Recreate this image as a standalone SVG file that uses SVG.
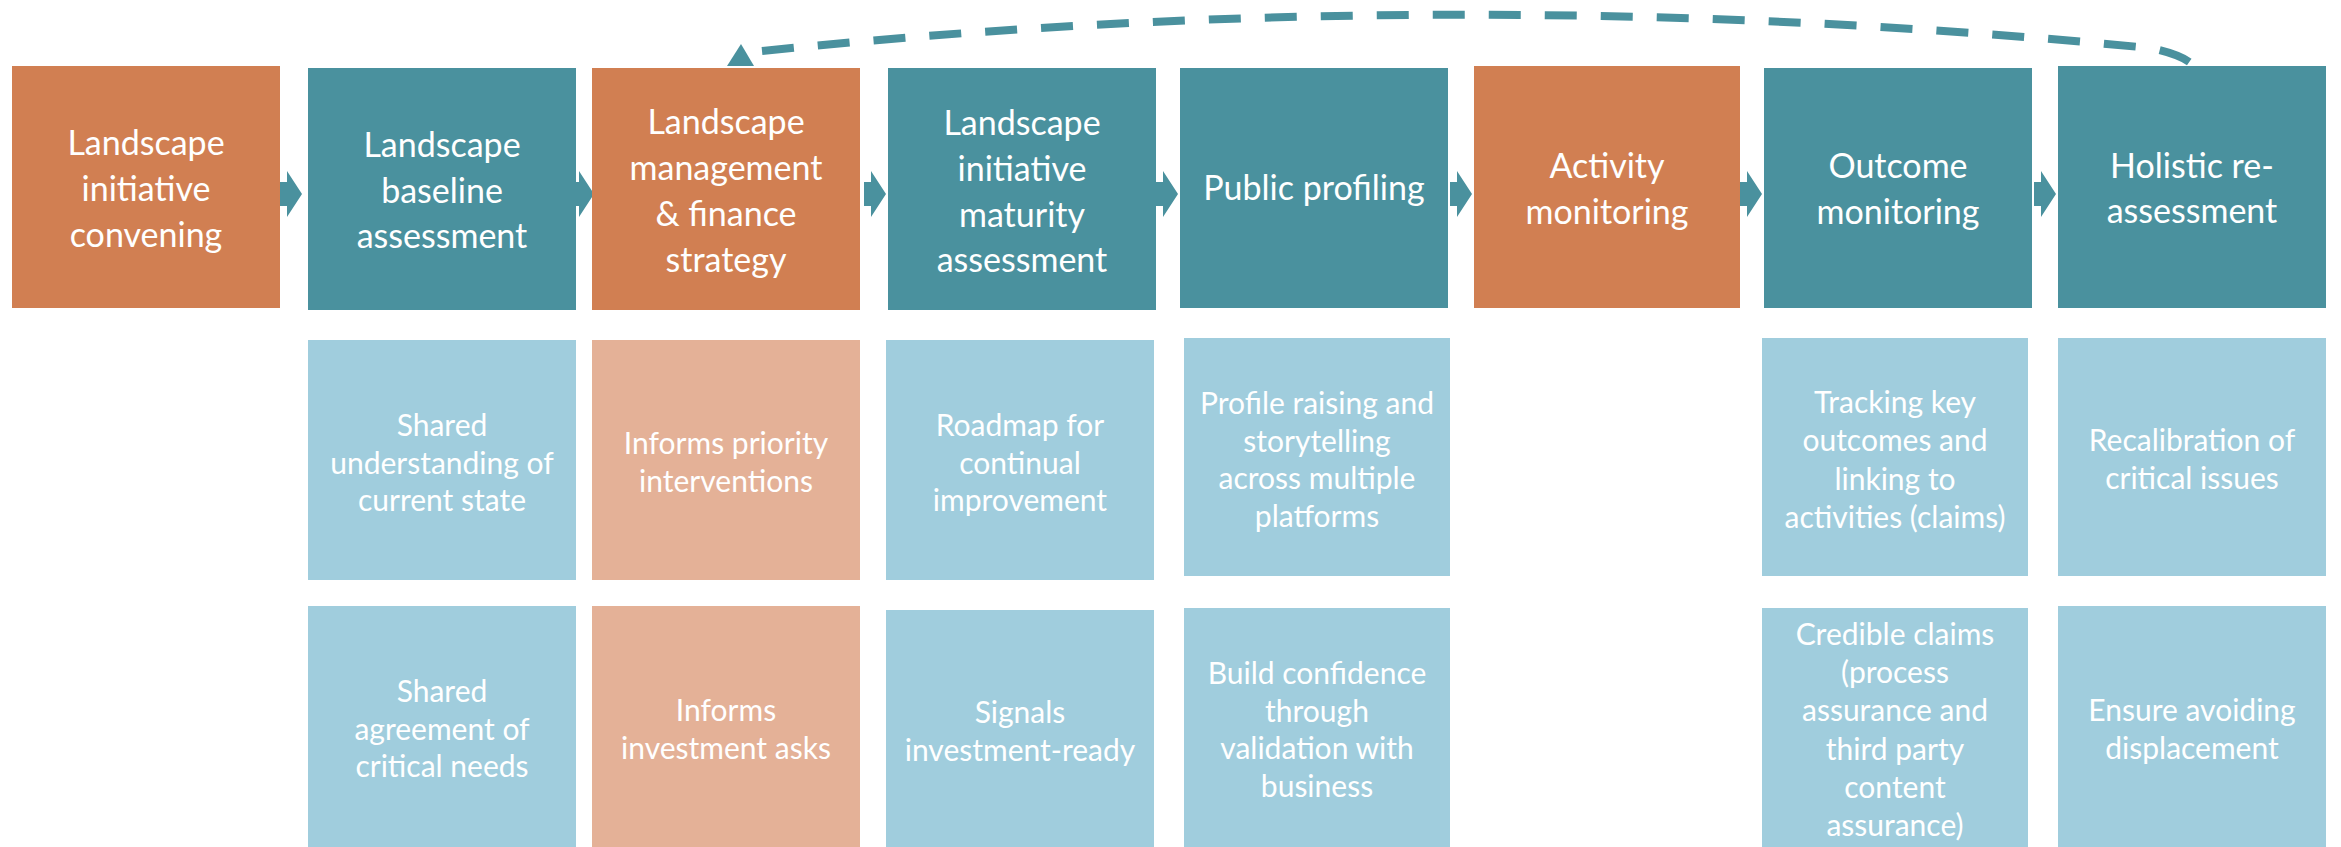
<svg xmlns="http://www.w3.org/2000/svg" width="2341" height="847" viewBox="0 0 2341 847">
<style>
.o{fill:#D17F52}.t{fill:#4A919E}.lb{fill:#A0CDDD}.lo{fill:#E4B197}
.h{font-family:Lato,"Liberation Sans",sans-serif;font-size:34px;fill:#fff;text-anchor:middle}
.s{font-family:Lato,"Liberation Sans",sans-serif;font-size:30px;fill:#fff;text-anchor:middle}
.arr{fill:#4A919E}
.loop{fill:none;stroke:#4A919E;stroke-width:8;stroke-dasharray:32 24}
</style>
<defs>
<path id="chev" d="M0,-12 H7 V-23 L22,0 L7,23 V12 H0 Z"/>
</defs>
<rect width="2341" height="847" fill="#fff"/>
<g id="connectors">
<use href="#chev" class="arr" x="280" y="194"/>
<use href="#chev" class="arr" x="572" y="194"/>
<use href="#chev" class="arr" x="864" y="194"/>
<use href="#chev" class="arr" x="1156" y="194"/>
<use href="#chev" class="arr" x="1450" y="194"/>
<use href="#chev" class="arr" x="1740" y="194"/>
<use href="#chev" class="arr" x="2034" y="194"/>
<path class="loop" d="M762 51 Q1450 -20 2150 48 Q2180 54 2192 64"/>
<polygon class="arr" points="741,44 727,66 754,66"/>
</g>
<g id="n1"><rect class="o" x="12" y="66" width="268" height="242"/>
<text class="h"><tspan x="146" y="155">Landscape</tspan><tspan x="146" y="201">initiative</tspan><tspan x="146" y="247">convening</tspan></text></g>
<g id="n2"><rect class="t" x="308" y="68" width="268" height="242"/>
<text class="h"><tspan x="442" y="157">Landscape</tspan><tspan x="442" y="203">baseline</tspan><tspan x="442" y="248">assessment</tspan></text></g>
<g id="n3"><rect class="o" x="592" y="68" width="268" height="242"/>
<text class="h"><tspan x="726" y="134">Landscape</tspan><tspan x="726" y="180">management</tspan><tspan x="726" y="226">&amp; finance</tspan><tspan x="726" y="272">strategy</tspan></text></g>
<g id="n4"><rect class="t" x="888" y="68" width="268" height="242"/>
<text class="h"><tspan x="1022" y="135">Landscape</tspan><tspan x="1022" y="181">initiative</tspan><tspan x="1022" y="227">maturity</tspan><tspan x="1022" y="272">assessment</tspan></text></g>
<g id="n5"><rect class="t" x="1180" y="68" width="268" height="240"/>
<text class="h" x="1314" y="200">Public profiling</text></g>
<g id="n6"><rect class="o" x="1474" y="66" width="266" height="242"/>
<text class="h"><tspan x="1607" y="178">Activity</tspan><tspan x="1607" y="224">monitoring</tspan></text></g>
<g id="n7"><rect class="t" x="1764" y="68" width="268" height="240"/>
<text class="h"><tspan x="1898" y="178">Outcome</tspan><tspan x="1898" y="224">monitoring</tspan></text></g>
<g id="n8"><rect class="t" x="2058" y="66" width="268" height="242"/>
<text class="h"><tspan x="2192" y="178">Holistic re-</tspan><tspan x="2192" y="223">assessment</tspan></text></g>

<g id="b2a"><rect class="lb" x="308" y="340" width="268" height="240"/>
<text class="s"><tspan x="442" y="436">Shared</tspan><tspan x="442" y="474">understanding of</tspan><tspan x="442" y="511">current state</tspan></text></g>
<g id="b2b"><rect class="lb" x="308" y="606" width="268" height="241"/>
<text class="s"><tspan x="442" y="702">Shared</tspan><tspan x="442" y="740">agreement of</tspan><tspan x="442" y="777">critical needs</tspan></text></g>
<g id="b3a"><rect class="lo" x="592" y="340" width="268" height="240"/>
<text class="s"><tspan x="726" y="454">Informs priority</tspan><tspan x="726" y="492">interventions</tspan></text></g>
<g id="b3b"><rect class="lo" x="592" y="606" width="268" height="241"/>
<text class="s"><tspan x="726" y="721">Informs</tspan><tspan x="726" y="759">investment asks</tspan></text></g>
<g id="b4a"><rect class="lb" x="886" y="340" width="268" height="240"/>
<text class="s"><tspan x="1020" y="436">Roadmap for</tspan><tspan x="1020" y="474">continual</tspan><tspan x="1020" y="511">improvement</tspan></text></g>
<g id="b4b"><rect class="lb" x="886" y="610" width="268" height="237"/>
<text class="s"><tspan x="1020" y="723">Signals</tspan><tspan x="1020" y="761">investment-ready</tspan></text></g>
<g id="b5a"><rect class="lb" x="1184" y="338" width="266" height="238"/>
<text class="s"><tspan x="1317" y="414">Profile raising and</tspan><tspan x="1317" y="452">storytelling</tspan><tspan x="1317" y="489">across multiple</tspan><tspan x="1317" y="527">platforms</tspan></text></g>
<g id="b5b"><rect class="lb" x="1184" y="608" width="266" height="239"/>
<text class="s"><tspan x="1317" y="684">Build confidence</tspan><tspan x="1317" y="722">through</tspan><tspan x="1317" y="759">validation with</tspan><tspan x="1317" y="797">business</tspan></text></g>
<g id="b7a"><rect class="lb" x="1762" y="338" width="266" height="238"/>
<text class="s"><tspan x="1895" y="413">Tracking key</tspan><tspan x="1895" y="451">outcomes and</tspan><tspan x="1895" y="490">linking to</tspan><tspan x="1895" y="528">activities (claims)</tspan></text></g>
<g id="b7b"><rect class="lb" x="1762" y="608" width="266" height="239"/>
<text class="s"><tspan x="1895" y="645">Credible claims</tspan><tspan x="1895" y="683">(process</tspan><tspan x="1895" y="721">assurance and</tspan><tspan x="1895" y="760">third party</tspan><tspan x="1895" y="798">content</tspan><tspan x="1895" y="836">assurance)</tspan></text></g>
<g id="b8a"><rect class="lb" x="2058" y="338" width="268" height="238"/>
<text class="s"><tspan x="2192" y="451">Recalibration of</tspan><tspan x="2192" y="489">critical issues</tspan></text></g>
<g id="b8b"><rect class="lb" x="2058" y="606" width="268" height="241"/>
<text class="s"><tspan x="2192" y="721">Ensure avoiding</tspan><tspan x="2192" y="759">displacement</tspan></text></g>
</svg>
